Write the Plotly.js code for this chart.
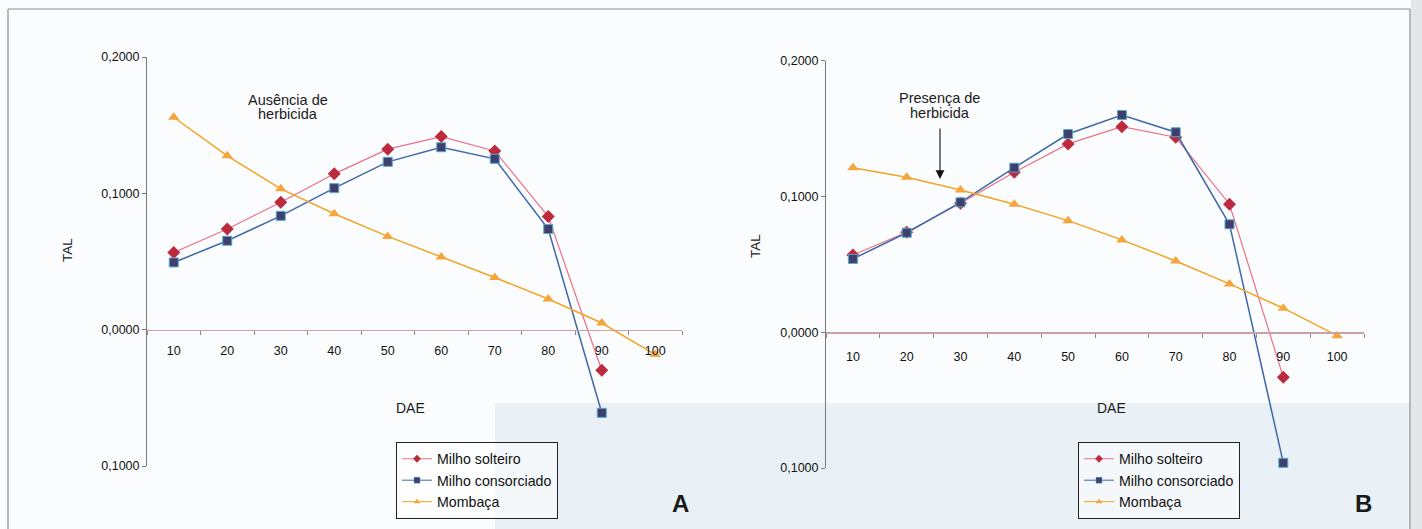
<!DOCTYPE html>
<html>
<head>
<meta charset="utf-8">
<script src="https://cdn.plot.ly/plotly-3.0.1.min.js"></script>
<style>html,body{margin:0;padding:0;background:#fbfcfd;}#chart{width:1422px;height:529px;}</style>
</head>
<body>
<div id="chart"></div>
<script>
// ---- data ----
const dae = ['10','20','30','40','50','60','70','80','90','100'];
const yTickVals = [0.2, 0.1, 0, -0.1];
const yTickText = ['0,2000', '0,1000', '0,0000', '0,1000'];
const seriesNames = ['Milho solteiro', 'Milho consorciado', 'Mombaça'];

// Chart A – Ausência de herbicida
const A_solteiro     = [0.0566, 0.0738, 0.0935, 0.1143, 0.1324, 0.1416, 0.1311, 0.0830, -0.0298];
const A_consorciado  = [0.0493, 0.0652, 0.0835, 0.1038, 0.1231, 0.1338, 0.1253, 0.0738, -0.0610];
const A_mombaca      = [0.1558, 0.1275, 0.1033, 0.0850, 0.0684, 0.0533, 0.0383, 0.0225, 0.0049, -0.0183];

// Chart B – Presença de herbicida
const B_solteiro     = [0.0569, 0.0736, 0.0950, 0.1178, 0.1387, 0.1514, 0.1436, 0.0943, -0.0331];
const B_consorciado  = [0.0540, 0.0733, 0.0957, 0.1212, 0.1460, 0.1600, 0.1473, 0.0795, -0.0962];
const B_mombaca      = [0.1212, 0.1141, 0.1048, 0.0943, 0.0822, 0.0680, 0.0525, 0.0356, 0.0177, -0.0025];

// ---- helpers (pixel -> paper) ----
const W = 1422, H = 529;
const px = x => x / W;
const py = y => 1 - y / H;
const FONT = 'Liberation Sans, Arial, sans-serif';

const styles = [
  {line: {color: '#ea7088', width: 1.2}, marker: {symbol: 'diamond', size: 10, color: '#bc2a3e'}},
  {line: {color: '#3f68a8', width: 1.5}, marker: {symbol: 'square', size: 9, color: '#3e3f6e', line: {color: '#5aa8c4', width: 1}}},
  {line: {color: '#f2a424', width: 1.5}, marker: {symbol: 'triangle-up', size: 10, color: '#f6a43c'}}
];

function mk(x, y, i, xa, ya) {
  return Object.assign({
    type: 'scatter', mode: 'lines+markers', x: x, y: y, name: seriesNames[i],
    xaxis: xa, yaxis: ya, showlegend: false, cliponaxis: false
  }, JSON.parse(JSON.stringify(styles[i])));
}
// legend-only entries (small symbols, as in the printed legend)
function legEntry(i, xa, ya, leg) {
  const s = JSON.parse(JSON.stringify(styles[i]));
  s.marker.size = 6;
  if (s.marker.line) s.marker.line.width = 0.5;
  s.line.width = 1;
  return Object.assign({
    type: 'scatter', mode: 'lines+markers', x: [dae[0]], y: [null], name: seriesNames[i],
    xaxis: xa, yaxis: ya, legend: leg, showlegend: true
  }, s);
}

const traces = [
  mk(dae.slice(0, A_solteiro.length), A_solteiro, 0, 'x', 'y'),
  mk(dae.slice(0, A_consorciado.length), A_consorciado, 1, 'x', 'y'),
  mk(dae.slice(0, A_mombaca.length), A_mombaca, 2, 'x', 'y'),
  mk(dae.slice(0, B_solteiro.length), B_solteiro, 0, 'x2', 'y2'),
  mk(dae.slice(0, B_consorciado.length), B_consorciado, 1, 'x2', 'y2'),
  mk(dae.slice(0, B_mombaca.length), B_mombaca, 2, 'x2', 'y2'),
  legEntry(0, 'x', 'y', 'legend'), legEntry(1, 'x', 'y', 'legend'), legEntry(2, 'x', 'y', 'legend'),
  legEntry(0, 'x2', 'y2', 'legend2'), legEntry(1, 'x2', 'y2', 'legend2'), legEntry(2, 'x2', 'y2', 'legend2')
];

function xAxis(x0, x1, zeroY, stand) {
  return {
    domain: [px(x0), px(x1)], anchor: 'free', position: py(zeroY),
    type: 'category', categoryorder: 'array', categoryarray: dae,
    range: [-0.5, dae.length - 0.5], tickson: 'boundaries',
    ticks: 'outside', ticklen: 4, tickcolor: '#8a8a8a', tickwidth: 1,
    showline: true, linecolor: '#c9a2a8', linewidth: 1.2,
    showgrid: false, zeroline: false, ticklabelstandoff: stand,
    tickfont: {family: FONT, size: 12.5, color: '#111'}, fixedrange: true
  };
}
function yAxis(top, bottom, anchor) {
  return {
    domain: [py(bottom), py(top)], anchor: anchor, range: [-0.1, 0.2],
    tickmode: 'array', tickvals: yTickVals, ticktext: yTickText,
    ticks: 'outside', ticklen: 4, tickcolor: '#7a7a7a',
    showline: true, linecolor: '#7a7a7a', linewidth: 1,
    showgrid: false, zeroline: false,
    tickfont: {family: FONT, size: 12.5, color: '#111'}, fixedrange: true
  };
}

function legendBox(x, y) {
  return {
    x: px(x), y: py(y), xanchor: 'left', yanchor: 'top',
    bgcolor: 'rgba(255,255,255,0.55)', bordercolor: '#222', borderwidth: 1,
    font: {family: FONT, size: 14.2, color: '#111'}, itemwidth: 30, tracegroupgap: 0
  };
}

function txt(x, y, t, size, extra) {
  return Object.assign({xref: 'paper', yref: 'paper', x: px(x), y: py(y), text: t, showarrow: false,
    xanchor: 'center', yanchor: 'middle', font: {family: FONT, size: size, color: '#1a1a1a'}}, extra || {});
}

const layout = {
  width: W, height: H, margin: {l: 0, r: 0, t: 0, b: 0},
  paper_bgcolor: '#fbfcfd', plot_bgcolor: 'rgba(0,0,0,0)',
  showlegend: true,
  xaxis: xAxis(147, 682, 330, 9),
  yaxis: yAxis(57, 466, 'x'),
  xaxis2: xAxis(826, 1364, 332.3, 12),
  yaxis2: yAxis(60.7, 468, 'x2'),
  legend: legendBox(396, 442),
  legend2: legendBox(1078, 442),
  shapes: [
    {type: 'rect', xref: 'paper', yref: 'paper', x0: px(495), x1: px(1410), y0: 0, y1: py(403),
     fillcolor: '#e9f0f6', line: {width: 0}, layer: 'below'},
    {type: 'rect', xref: 'paper', yref: 'paper', x0: px(1411), x1: 1, y0: 0, y1: 1,
     fillcolor: '#e4e7ea', line: {width: 0}, layer: 'below'},
    {type: 'line', xref: 'paper', yref: 'paper', x0: px(8), x1: px(1410), y0: py(9), y1: py(9),
     line: {color: '#8c8c8c', width: 1.2}, layer: 'below'},
    {type: 'line', xref: 'paper', yref: 'paper', x0: px(8), x1: px(8), y0: py(9), y1: 0,
     line: {color: '#8c8c8c', width: 1.2}, layer: 'below'},
    {type: 'line', xref: 'paper', yref: 'paper', x0: px(1410), x1: px(1410), y0: py(9), y1: 0,
     line: {color: '#8c8c8c', width: 1.2}, layer: 'below'}
  ],
  annotations: [
    txt(67, 250, 'TAL', 13.5, {textangle: -90}),
    txt(755, 246, 'TAL', 13.5, {textangle: -90}),
    txt(410, 408, 'DAE', 14),
    txt(1111, 408, 'DAE', 14),
    txt(288, 100, 'Ausência de', 14.5),
    txt(288, 114, 'herbicida', 14.5),
    txt(940, 98, 'Presença de', 14.5),
    txt(940, 113, 'herbicida', 14.5),
    {xref: 'paper', yref: 'paper', x: px(940), y: py(179), ax: 0, ay: -52, text: '', showarrow: true,
     arrowhead: 2, arrowsize: 1.6, arrowwidth: 1.1, arrowcolor: '#111'},
    txt(680, 503, '<b>A</b>', 24),
    txt(1363, 503, '<b>B</b>', 24)
  ]
};

Plotly.newPlot('chart', traces, layout, {displayModeBar: false, staticPlot: true});
</script>
</body>
</html>
